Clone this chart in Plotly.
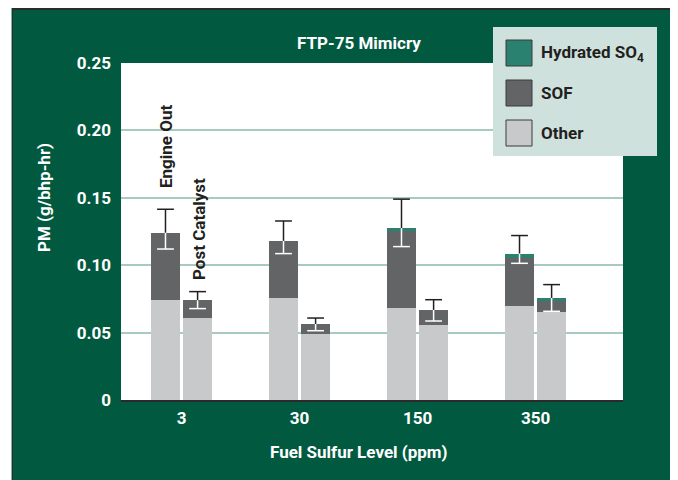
import plotly.graph_objects as go

# ---------------- data ----------------
categories = ["3", "30", "150", "350"]

# Engine Out
other_eo = [0.074, 0.076, 0.068, 0.070]
sof_eo = [0.050, 0.042, 0.0575, 0.0355]
so4_eo = [0.0, 0.0, 0.002, 0.003]
eo_err_hi = [0.1415, 0.1328, 0.149, 0.122]
eo_err_lo = [0.112, 0.1086, 0.1138, 0.1014]

# Post Catalyst
other_pc = [0.061, 0.049, 0.056, 0.065]
sof_pc = [0.013, 0.0074, 0.0108, 0.0085]
so4_pc = [0.0, 0.0, 0.0, 0.0022]
pc_err_hi = [0.0804, 0.0608, 0.0744, 0.0856]
pc_err_lo = [0.0678, 0.0514, 0.0586, 0.0658]

y_tickvals = [0, 0.05, 0.10, 0.15, 0.20, 0.25]
y_ticktext = ["0", "0.05", "0.10", "0.15", "0.20", "0.25"]
legend_labels = ["Hydrated SO<sub>4</sub>", "SOF", "Other"]

# ---------------- style ----------------
GREEN = "#015a40"
COL_OTHER = "#c8c9cb"
COL_SOF = "#636466"
COL_SO4 = "#2a8170"
GRID = "#a7cbc0"
LEG_BG = "#cfe1dc"
DARK = "#231f20"
FONT = "Roboto, sans-serif"
FS = 17

# page body has an 8px margin: work in page pixels, convert to figure pixels
OFF = 8
FIG_W, FIG_H = 678 - OFF, 480 - OFF
L, T, W, H = 121 - OFF, 63 - OFF, 502, 337  # plot area in figure pixels

offset = 0.136
bw = 0.246
n = len(categories)
x_eo = [i - offset for i in range(n)]
x_pc = [i + offset for i in range(n)]
xs = x_eo + x_pc

fig = go.Figure()
for name, vals, col in [
    ("Other", other_eo + other_pc, COL_OTHER),
    ("SOF", sof_eo + sof_pc, COL_SOF),
    ("Hydrated SO4", so4_eo + so4_pc, COL_SO4),
]:
    fig.add_trace(go.Bar(x=xs, y=vals, width=bw, marker=dict(color=col, line=dict(width=0)),
                         name=name, showlegend=False))

totals = [a + b + c for a, b, c in zip(other_eo + other_pc, sof_eo + sof_pc, so4_eo + so4_pc)]
hi = eo_err_hi + pc_err_hi
lo = eo_err_lo + pc_err_lo

# upper (black) part of error bars
fig.add_trace(go.Scatter(
    x=xs, y=hi, mode="markers", showlegend=False, hoverinfo="skip",
    marker=dict(symbol="line-ew", size=12, line=dict(width=1.5, color=DARK)),
    error_y=dict(type="data", symmetric=False, array=[0] * len(xs),
                 arrayminus=[h - t for h, t in zip(hi, totals)],
                 width=0, thickness=1.5, color=DARK),
))
# lower (white) part of error bars
fig.add_trace(go.Scatter(
    x=xs, y=lo, mode="markers", showlegend=False, hoverinfo="skip",
    marker=dict(symbol="line-ew", size=12, line=dict(width=1.5, color="white")),
    error_y=dict(type="data", symmetric=False, array=[t - l for t, l in zip(totals, lo)],
                 arrayminus=[0] * len(xs), width=0, thickness=1.5, color="white"),
))


def pshape(x0, y0, x1, y1, fill, line_color=None, lw=0):
    # page pixel coords -> shape relative to plot area
    return dict(type="rect", xref="paper", yref="paper", xsizemode="pixel", ysizemode="pixel",
                xanchor=0, yanchor=0,
                x0=(x0 - OFF) - L, x1=(x1 - OFF) - L,
                y0=(T + H) - (y0 - OFF), y1=(T + H) - (y1 - OFF),
                fillcolor=fill, line=dict(color=line_color or fill, width=lw), layer="above")


def px2paper(px, py):
    return ((px - OFF) - L) / W, (T + H - (py - OFF)) / H


shapes = [
    pshape(8, 8, 676, 10, "#2b2b2b"),
    pshape(8, 8, 11, 480, "white"),
    pshape(11, 8, 12, 480, "#7fb3a5"),
    pshape(12, 8, 13, 480, "#2b2b2b"),
    pshape(675, 8, 677, 480, "#2b2b2b"),
    pshape(677, 8, 678, 480, "#7fb3a5"),
    # legend box
    pshape(493, 27, 657, 156, LEG_BG),
]
leg_cols = [COL_SO4, COL_SOF, COL_OTHER]
annotations = []
for i, (c, lab) in enumerate(zip(leg_cols, legend_labels)):
    y0 = 40 + 40 * i
    shapes.append(pshape(506, y0, 532, y0 + 26, c, "#3a3a3a", 1))
    ax, ay = px2paper(539, y0 + 13)
    annotations.append(dict(xref="paper", yref="paper", x=ax, y=ay,
                            text=lab, showarrow=False, xanchor="left", yanchor="middle",
                            font=dict(family=FONT, size=FS, color=DARK, weight="bold")))


def ann(text, px, py, color="white", angle=0):
    ax, ay = px2paper(px, py)
    annotations.append(dict(xref="paper", yref="paper", x=ax, y=ay,
                            text=text, showarrow=False, xanchor="center", yanchor="middle",
                            textangle=angle, font=dict(family=FONT, size=FS, color=color, weight="bold")))


ann("FTP-75 Mimicry", 359, 43)
ann("Fuel Sulfur Level (ppm)", 359, 452)
ann("PM (g/bhp-hr)", 44, 198, angle=-90)
ann("Engine Out", 166, 147, DARK, -90)
ann("Post Catalyst", 199, 229, DARK, -90)

fig.update_layout(
    width=FIG_W, height=FIG_H,
    margin=dict(l=L, r=FIG_W - L - W, t=T, b=FIG_H - T - H, pad=0),
    paper_bgcolor=GREEN, plot_bgcolor="white",
    barmode="stack", bargap=0,
    shapes=shapes, annotations=annotations,
    showlegend=False,
    font=dict(family=FONT, size=FS, color="white", weight="bold"),
    xaxis=dict(range=[-0.513, 3.741], tickvals=list(range(n)), ticktext=categories,
               showgrid=False, zeroline=False, showline=True, linecolor="#2b2b2b", linewidth=2,
               ticks="", ticklabelstandoff=2,
               tickfont=dict(family=FONT, size=FS, color="white", weight="bold")),
    yaxis=dict(range=[0, 0.25], tickvals=y_tickvals, ticktext=y_ticktext,
               showgrid=True, gridcolor=GRID, gridwidth=1.5, zeroline=False, showline=False,
               ticks="", ticklabelstandoff=9,
               tickfont=dict(family=FONT, size=FS, color="white", weight="bold")),
)

fig.write_html("out.html")
